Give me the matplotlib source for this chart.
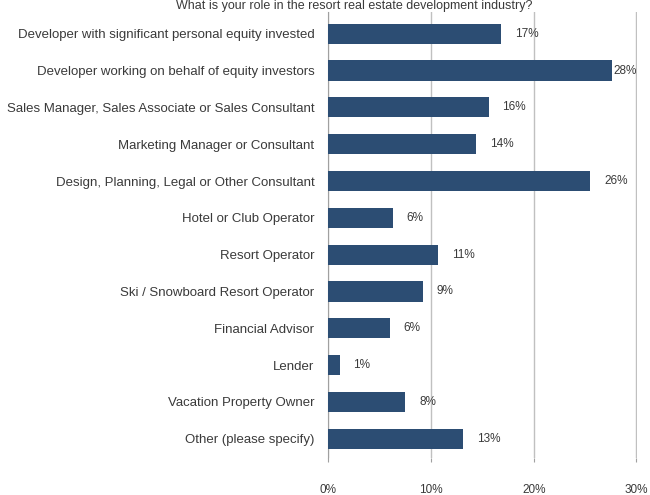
#!/usr/bin/env python3
"""
Horizontal bar chart of survey respondents' roles in the resort real estate
development industry.
"""

import matplotlib
matplotlib.use('Agg')
import matplotlib.pyplot as plt

# Survey responses (share of respondents, %)
roles = [
    'Developer with significant personal equity invested',
    'Developer working on behalf of equity investors',
    'Sales Manager, Sales Associate or Sales Consultant',
    'Marketing Manager or Consultant',
    'Design, Planning, Legal or Other Consultant',
    'Hotel or Club Operator',
    'Resort Operator',
    'Ski / Snowboard Resort Operator',
    'Financial Advisor',
    'Lender',
    'Vacation Property Owner',
    'Other (please specify)',
]
shares = [16.8, 27.6, 15.6, 14.4, 25.5, 6.3, 10.7, 9.2, 6.0, 1.1, 7.5, 13.1]
x_ticks = [0, 10, 20, 30]
x_tick_labels = ['0%', '10%', '20%', '30%']
title = 'What is your role in the resort real estate development industry?'

plt.rcParams['font.family'] = ['Liberation Sans Narrow', 'Liberation Sans', 'DejaVu Sans']
text_color = '#3A3A3A'
bar_color = '#2C4D73'
grid_color = '#C0C0C0'

fig = plt.figure(figsize=(6.5, 4.95), dpi=100)
ax = fig.add_axes([0.505, 0.075, 0.475, 0.9])

y = list(range(len(roles)))
ax.barh(y, shares, height=0.55, color=bar_color, zorder=3)

# Value labels just past the end of each bar
for yi, v in zip(y, shares):
    offset = 1 if v > 27 else 10
    ax.annotate(f'{v:.0f}%', (v, yi), xytext=(offset, 0), textcoords='offset points',
                va='center', ha='left', fontsize=8.5, color=text_color, zorder=4,
                annotation_clip=False)

ax.set_xlim(0, 30.05)
ax.set_ylim(len(roles) - 0.5 + 0.02, -0.58)
ax.set_xticks(x_ticks)
ax.set_xticklabels(x_tick_labels, fontsize=8.5, color=text_color)
ax.set_yticks(y)
ax.set_yticklabels(roles, fontsize=9.5, color=text_color)

ax.xaxis.grid(True, color=grid_color, linewidth=1, zorder=0)
ax.tick_params(axis='x', length=3, pad=16, color='#A0A0A0')
ax.tick_params(axis='y', length=0, pad=10)

for side in ['top', 'right', 'bottom']:
    ax.spines[side].set_visible(False)
ax.spines['left'].set_color('#A0A0A0')

fig.text(0.545, 0.999, title, ha='center', va='top', fontsize=9, color=text_color)

plt.savefig('out.png', dpi=100)
plt.close()
